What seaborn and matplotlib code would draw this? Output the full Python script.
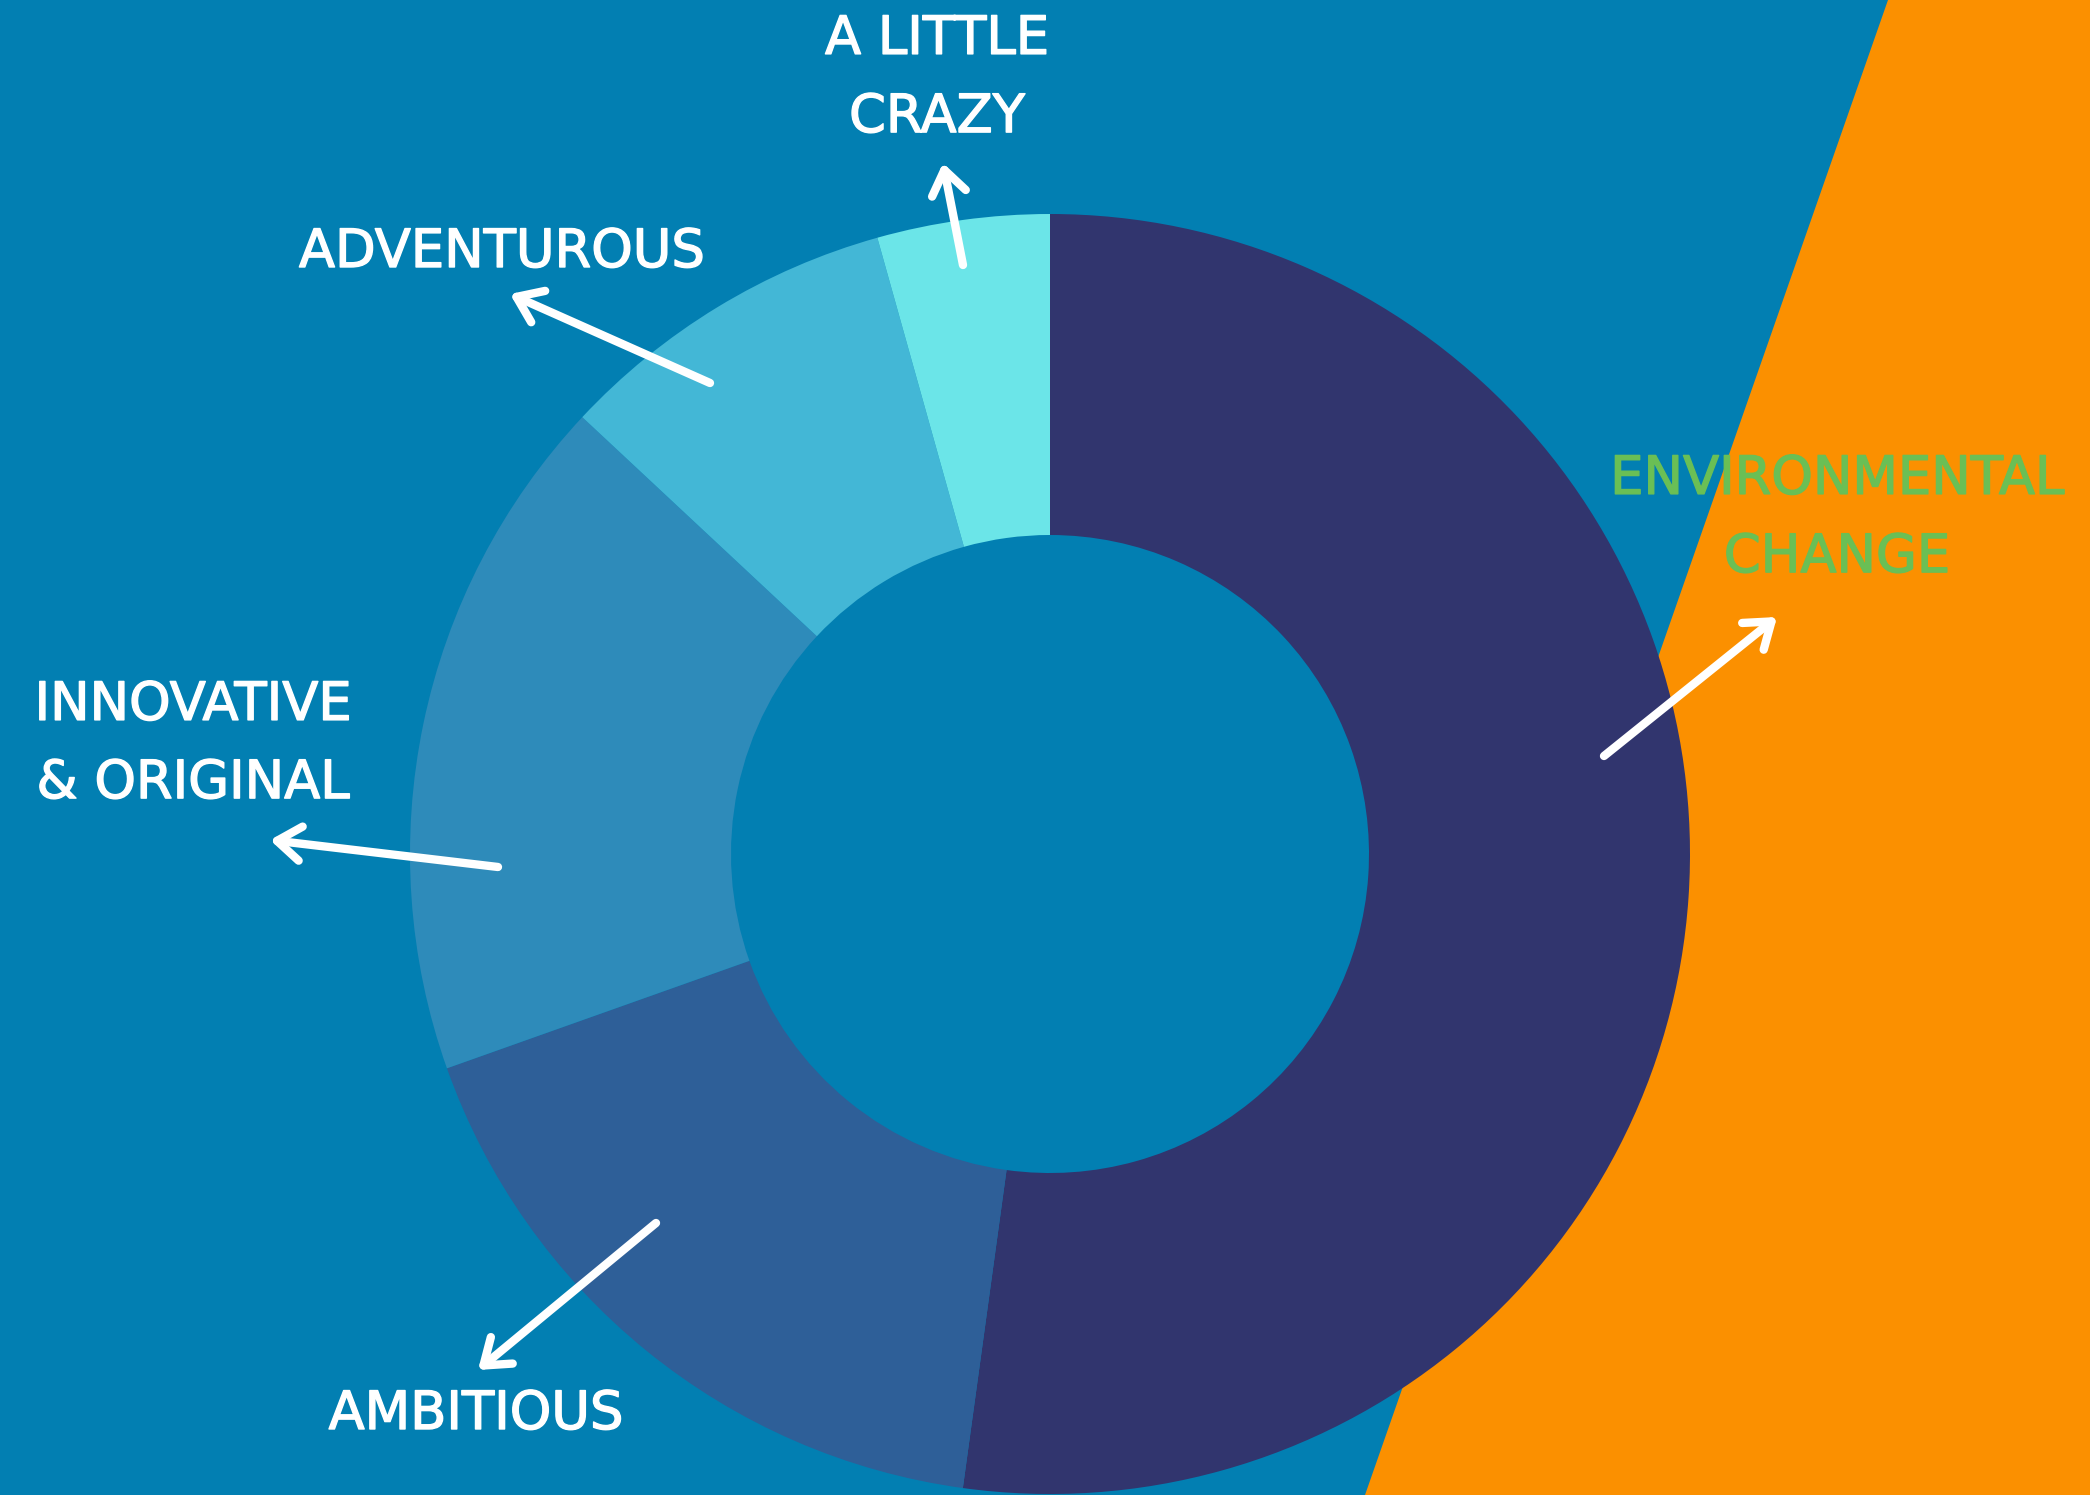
import matplotlib.pyplot as plt
import matplotlib.patheffects as pe
import seaborn as sns

# traits, clockwise from 12 o'clock (counts of responses)
traits = ['ENVIRONMENTAL\nCHANGE', 'AMBITIOUS', 'INNOVATIVE\n& ORIGINAL', 'ADVENTUROUS', 'A LITTLE\nCRAZY']
counts = [12, 4, 4, 2, 1]
slice_colors = ['#31356e', '#2e5f98', '#2e8bba', '#43b7d6', '#6be5e8']
label_colors = ['#6abf55', 'white', 'white', 'white', 'white']

BG = '#027fb2'
ORANGE = '#fb9000'
W, H = 2090, 1495

sns.set_theme(style='white', rc={'figure.facecolor': BG, 'axes.facecolor': BG})
plt.rcParams['font.family'] = ['DejaVu Sans']

# label placement in pixel coords (y from top): text centre, arrow tail, arrow head
label_layout = [
    ((1837, 518), (1604, 756), (1777, 617)),
    ((476, 1414), (656, 1223), (478, 1370)),
    ((193, 744), (498, 867), (270, 840)),
    ((502, 252), (710, 383), (510, 294)),
    ((937, 78), (963, 265), (943, 163)),
]

fig = plt.figure(figsize=(W / 100, H / 100), dpi=100)
ax = fig.add_axes([0, 0, 1, 1])

# orange band on the right
ax.fill([1888, W, W, 1365], [H, H, 0, 0], color=ORANGE, lw=0, zorder=0)

palette = sns.color_palette(slice_colors)
ax.pie(counts, colors=palette, startangle=90, counterclock=False,
       center=(1050, H - 854), radius=640, frame=True,
       wedgeprops=dict(width=321, edgecolor='none', linewidth=0))

for text, col, (pos, tail, head) in zip(traits, label_colors, label_layout):
    ax.text(pos[0], H - pos[1], text, ha='center', va='center', color=col,
            fontsize=38, linespacing=1.64, zorder=5,
            path_effects=[pe.withStroke(linewidth=1.0, foreground=col)])
    ax.annotate('', xy=(head[0], H - head[1]), xytext=(tail[0], H - tail[1]),
                arrowprops=dict(arrowstyle='->,head_length=0.9,head_width=0.65',
                                mutation_scale=19, color='white', lw=6,
                                capstyle='round', joinstyle='round',
                                shrinkA=0, shrinkB=0),
                zorder=6)

ax.set_xlim(0, W)
ax.set_ylim(0, H)
ax.set_aspect('equal')
ax.axis('off')

fig.savefig('out.png', dpi=100, facecolor=BG)
